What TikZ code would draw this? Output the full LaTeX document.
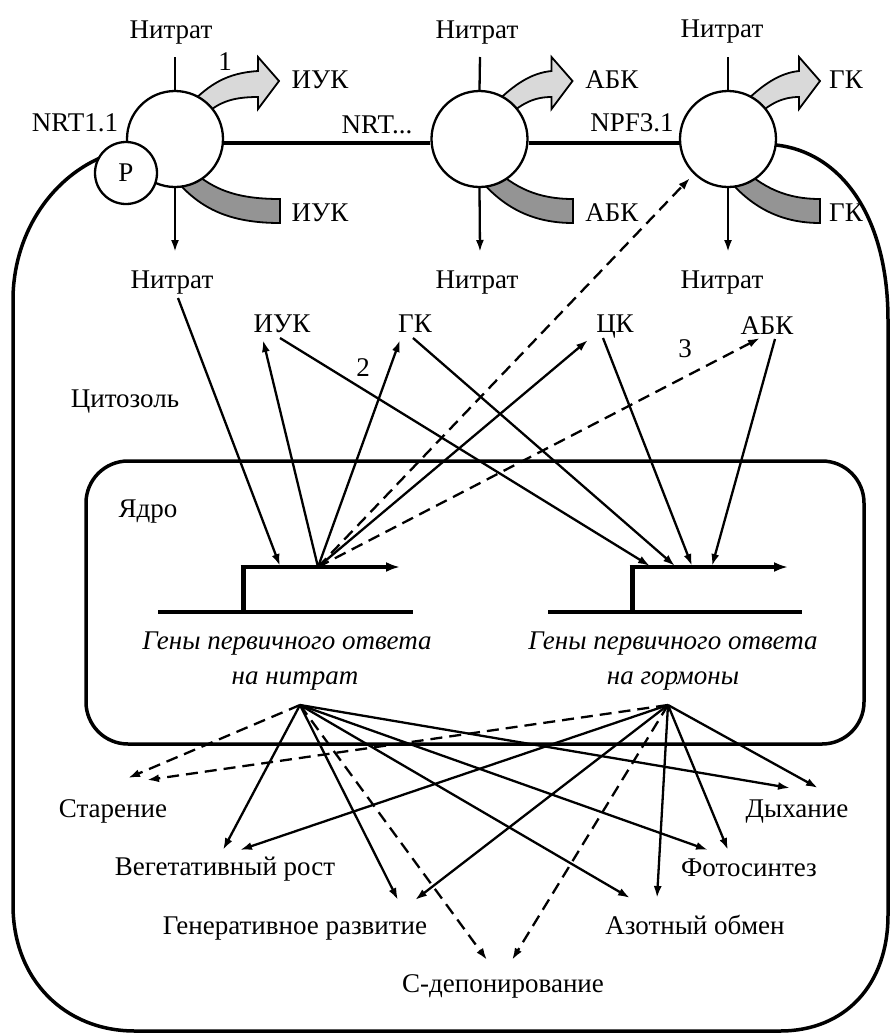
\documentclass[tikz,border=0pt]{standalone}
\usepackage{fontspec}
\setmainfont{Liberation Serif}
\usetikzlibrary{arrows.meta}
\newcommand\DrawBands[3]{%
\begin{scope}[shift={(#1,139)}]
 \path[lightband] (15,-35) .. controls (35,-55) and (52,-66) .. (#2,-68) -- (#2,-82) -- ({#2+21},-58) -- (#2,-30) -- (#2,-42) .. controls (55,-42) and (42,-36) .. (25,-20) -- cycle;
 \path[darkband] (10,25) .. controls (35,50) and (60,60) .. (#3,60) -- (#3,84) .. controls (55,84) and (25,70) .. (0,40) -- cycle;
\end{scope}}
\begin{document}
\begin{tikzpicture}[x=1pt,y=-1pt,
  lbl/.style={font=\fontsize{27}{30}\selectfont, inner sep=0pt, text height=18pt, text depth=6pt},
  ilbl/.style={font=\fontsize{27}{30}\selectfont\itshape, inner sep=0pt, text height=18pt, text depth=6pt},
  arr/.style={line width=2.3pt, -{Latex[length=12pt,width=8pt]}},
  darr/.style={arr, dash pattern=on 12pt off 7pt},
  memb/.style={line width=3.5pt},
  trans/.style={circle, draw, line width=2.3pt, fill=white, minimum size=96pt, inner sep=0pt},
  lightband/.style={draw, line width=1.8pt, fill=black!15, line join=miter},
  darkband/.style={draw, line width=1.8pt, fill=black!42},
  gene/.style={line width=3.3pt}
]
\useasboundingbox (0,0) rectangle (892,1034);
% cell membrane
\draw[memb] (776,145) .. controls (840,152) and (888,215) .. (888,320) -- (888,915)
  .. controls (888,985) and (845,1031) .. (780,1031) -- (135,1031)
  .. controls (65,1031) and (13,980) .. (13,905) -- (13,300)
  .. controls (13,235) and (50,180) .. (100,158);
% nucleus
\draw[memb, rounded corners=42pt] (86,461) rectangle (864,744);
% hormone bands
\DrawBands{175}{83}{105}
\DrawBands{479.5}{72}{93.5}
\DrawBands{728}{71}{92}
% transporters
\node[trans] (c1) at (175,139) {};
\node[trans] (c2) at (479.5,139) {};
\node[trans] (c3) at (728,139) {};
\node[circle, draw, line width=2.3pt, fill=white, minimum size=62pt, inner sep=0pt, font=\fontsize{27}{30}\selectfont] (p) at (126,173) {P};
\draw[memb] ([yshift=-4pt]c1.east) -- ([yshift=-4pt]c2.west);
\draw[memb] ([yshift=-4pt]c2.east) -- ([yshift=-4pt]c3.west);
% nitrate in/out
\coordinate (t1) at (175,57); \coordinate (t2) at (480,57); \coordinate (t3) at (728,57);
\coordinate (b1) at (175,252); \coordinate (b2) at (480,252); \coordinate (b3) at (728,252);
\draw[line width=2.3pt] (t1) -- (c1.north);
\draw[line width=2.3pt] (t2) -- (c2.north);
\draw[line width=2.3pt] (t3) -- (c3.north);
\draw[arr] (c1.south) -- (b1);
\draw[arr] (c2.south) -- (b2);
\draw[arr] (c3.south) -- (b3);
% labels top
\node[lbl] (n1t) at (171,32) {Нитрат};
\node[lbl] (n2t) at (477,32) {Нитрат};
\node[lbl] (n3t) at (722,31) {Нитрат};
\node[lbl] (n1b) at (172,282) {Нитрат};
\node[lbl] (n2b) at (477,282) {Нитрат};
\node[lbl] (n3b) at (722,282) {Нитрат};
\node[lbl] (nrt11) at (75,125) {NRT1.1};
\node[lbl] (nrtx) at (377,127) {NRT...};
\node[lbl] (npf) at (632,125) {NPF3.1};
\node[lbl] (iuk1) at (320,82) {ИУК};
\node[lbl] (iuk2) at (320,215) {ИУК};
\node[lbl] (abk1) at (612,82) {АБК};
\node[lbl] (abk2) at (612,215) {АБК};
\node[lbl] (gk1) at (846,82) {ГК};
\node[lbl] (gk2) at (846,215) {ГК};
\node[lbl] (one) at (225,64) {1};
% cytosol labels
\node[lbl] (iukm) at (282,326) {ИУК};
\node[lbl] (gkm) at (415,326) {ГК};
\node[lbl] (ckm) at (615,326) {ЦК};
\node[lbl] (abkm) at (767,328) {АБК};
\node[lbl] (two) at (363,370) {2};
\node[lbl] (three) at (685,351) {3};
\node[lbl] (cyt) at (125,401) {Цитозоль};
\node[lbl] (nuc) at (148,511) {Ядро};
% genes
\draw[gene] (158,612) -- (413,612);
\draw[line width=5pt] (243,612) -- (243,565.5);
\draw[gene, -{Latex[length=14pt,width=10pt]}] (240.5,567) -- (400,567);
\draw[gene] (548,612) -- (802,612);
\draw[line width=5pt] (632,612) -- (632,565.5);
\draw[gene, -{Latex[length=14pt,width=10pt]}] (629.5,567) -- (788,567);
\node[ilbl] (g1a) at (287,643) {Гены первичного ответа};
\node[ilbl] (g1b) at (295,678) {на нитрат};
\node[ilbl] (g2a) at (673,643) {Гены первичного ответа};
\node[ilbl] (g2b) at (673,678) {на гормоны};
% cytosol arrows
\coordinate (g1) at (318,567);
\coordinate (nitst) at (178,298);
\coordinate (g1in) at (280,566);
\coordinate (iukin) at (263,340); \coordinate (iukout) at (280,338);
\coordinate (gkin) at (400,340); \coordinate (gkout) at (413,338);
\coordinate (ckin) at (588,340); \coordinate (ckout) at (603,338);
\coordinate (abkin) at (760,338); \coordinate (abkout) at (775,339);
\coordinate (c3in) at (690,178);
\coordinate (r1) at (650,566); \coordinate (r2) at (675,566);
\coordinate (r3) at (692,566); \coordinate (r4) at (712,566);
\draw[arr] (nitst) -- (g1in);
\draw[arr] (g1) -- (iukin);
\draw[arr] (g1) -- (gkin);
\draw[arr] (g1) -- (ckin);
\draw[darr] (g1) -- (c3in);
\draw[darr] (g1) -- (abkin);
\draw[arr] (iukout) -- (r1);
\draw[arr] (gkout) -- (r2);
\draw[arr] (ckout) -- (r3);
\draw[arr] (abkout) -- (r4);
% outputs
\node[lbl] (sen) at (113,811) {Старение};
\node[lbl] (veg) at (225,869) {Вегетативный рост};
\node[lbl] (gen) at (295,928) {Генеративное развитие};
\node[lbl] (cdep) at (503,986) {C-депонирование};
\node[lbl] (resp) at (797,811) {Дыхание};
\node[lbl] (phot) at (749,870) {Фотосинтез};
\node[lbl] (azot) at (695,928) {Азотный обмен};
\coordinate (L) at (300,705); \coordinate (R) at (668,705);
\coordinate (senL) at (128,778); \coordinate (senR) at (147,780);
\coordinate (vegL) at (223,850); \coordinate (vegR) at (240,850);
\coordinate (genL) at (398,900); \coordinate (genR) at (415,900);
\coordinate (cdL) at (487,960); \coordinate (cdR) at (512,960);
\coordinate (azL) at (630,898); \coordinate (azR) at (657,898);
\coordinate (phL) at (708,850); \coordinate (phR) at (728,850);
\coordinate (reL) at (790,788); \coordinate (reR) at (818,788);
\draw[darr] (L) -- (senL);
\draw[arr] (L) -- (vegL);
\draw[arr] (L) -- (genL);
\draw[darr] (L) -- (cdL);
\draw[arr] (L) -- (azL);
\draw[arr] (L) -- (phL);
\draw[arr] (L) -- (reL);
\draw[darr] (R) -- (senR);
\draw[arr] (R) -- (vegR);
\draw[arr] (R) -- (genR);
\draw[darr] (R) -- (cdR);
\draw[arr] (R) -- (azR);
\draw[arr] (R) -- (phR);
\draw[arr] (R) -- (reR);
\end{tikzpicture}
\end{document}
